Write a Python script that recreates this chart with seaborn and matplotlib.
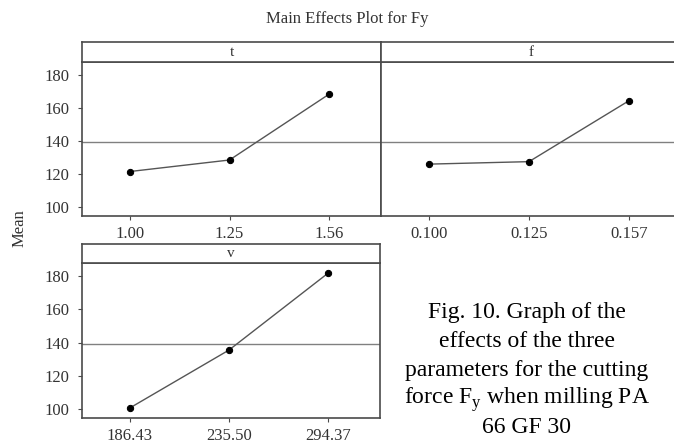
import matplotlib
matplotlib.use("Agg")
import matplotlib.pyplot as plt
import numpy as np
import pandas as pd
import seaborn as sns

# Factor levels and mean response Fy at each level
t_levels = ["1.00", "1.25", "1.56"]
t_means = [121.5, 128.5, 168.5]
f_levels = ["0.100", "0.125", "0.157"]
f_means = [126.0, 127.5, 164.5]
v_levels = ["186.43", "235.50", "294.37"]
v_means = [100.5, 135.5, 182.0]
y_ticks = [100, 120, 140, 160, 180]

caption_lines = [
    "Fig. 10. Graph of the",
    "effects of the three",
    "parameters for the cutting",
    r"force F$_\mathregular{y}$ when milling PA",
    "66 GF 30",
]

sns.set_theme(style="white")
plt.rcParams["font.family"] = ["Liberation Serif", "DejaVu Serif"]
plt.rcParams["mathtext.fontset"] = "custom"
plt.rcParams["mathtext.rm"] = "Liberation Serif"

W, H = 674, 443
fig = plt.figure(figsize=(W / 100, H / 100), dpi=100)
fig.patch.set_facecolor("white")

EDGE = "#4a4a4a"
LINE = "#555555"


def px_rect(x0, y0, x1, y1):
    return [x0 / W, 1 - y1 / H, (x1 - x0) / W, (y1 - y0) / H]


def panel(name, levels, means, data_box, strip_box, show_y):
    ax = fig.add_axes(px_rect(*data_box))
    df = pd.DataFrame({"level": levels, "mean": means})
    sns.pointplot(data=df, x="level", y="mean", order=levels, ax=ax,
                  color=LINE, errorbar=None, markers="o", markersize=4.5,
                  linewidth=1.0, markeredgecolor="black",
                  markerfacecolor="black")
    ax.axhline(np.mean(means), color="#808080", lw=1.0, zorder=0)
    ax.set_xlim(-0.48, 2.52)
    ax.set_ylim(94.5, 188.0)
    ax.set_yticks(y_ticks)
    ax.set_xlabel("")
    ax.set_ylabel("")
    for s in ax.spines.values():
        s.set_color(EDGE)
        s.set_linewidth(1.2)
    ax.tick_params(axis="x", direction="out", length=3, width=0.8,
                   color=EDGE, pad=4, labelsize=12, labelcolor="#333333",
                   bottom=True)
    if show_y:
        ax.tick_params(axis="y", direction="out", length=3, width=0.8,
                       color=EDGE, pad=6, labelsize=12,
                       labelcolor="#333333", left=True)
    else:
        ax.tick_params(axis="y", left=False, labelleft=False)

    sax = fig.add_axes(px_rect(*strip_box))
    sax.set_xticks([])
    sax.set_yticks([])
    sax.set_facecolor("white")
    for s in sax.spines.values():
        s.set_color(EDGE)
        s.set_linewidth(1.2)
    sax.text(0.5, 0.5, name, ha="center", va="center", fontsize=11,
             color="#333333", transform=sax.transAxes)
    return ax


panel("t", t_levels, t_means, (82, 62, 381, 216), (82, 42, 381, 62), True)
panel("f", f_levels, f_means, (381, 62, 681, 216), (381, 42, 681, 62), False)
panel("v", v_levels, v_means, (82, 263, 380, 418), (82, 244, 380, 263), True)

fig.text(347 / W, 1 - 19 / H, "Main Effects Plot for Fy", ha="center",
         va="center", fontsize=12, color="#333333")
fig.text(20 / W, 1 - 228 / H, "Mean", ha="center", va="center",
         rotation=90, fontsize=12, color="#333333")

baselines = [318, 347, 376, 404, 433]
for line, yb in zip(caption_lines, baselines):
    fig.text(527 / W, 1 - yb / H, line, ha="center", va="baseline",
             fontsize=17, color="black")

fig.savefig("out.png", dpi=100, facecolor="white")
